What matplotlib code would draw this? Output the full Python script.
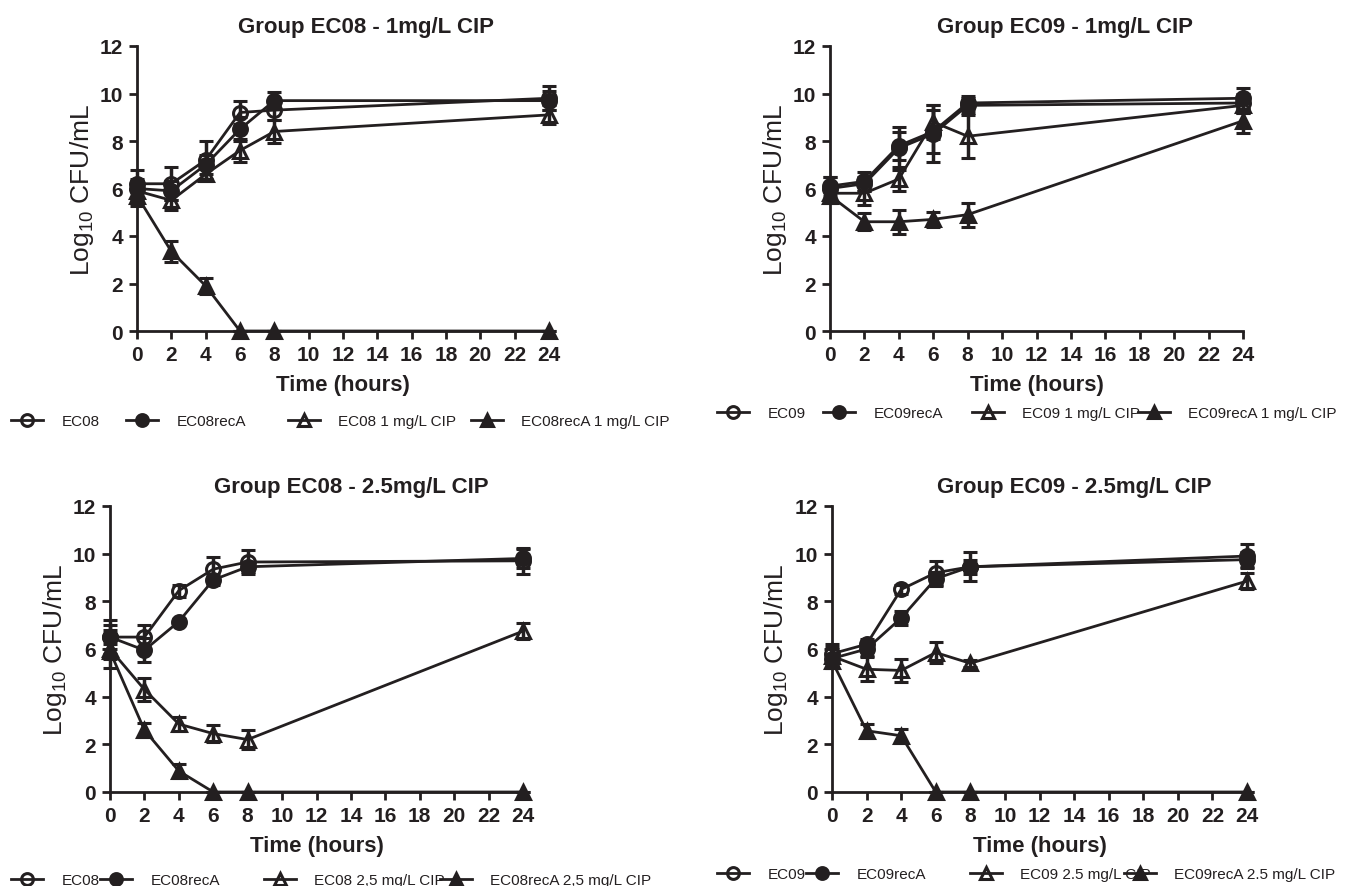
import matplotlib.pyplot as plt

plt.rcParams['font.family'] = ['Liberation Sans', 'DejaVu Sans']
plt.rcParams['mathtext.default'] = 'regular'

hours = [0, 2, 4, 6, 8, 24]

# Group EC08 - 1 mg/L CIP
ec08_a = [6.2, 6.2, 7.2, 9.2, 9.3, 9.8]
ec08_a_sd = [0.6, 0.7, 0.8, 0.5, 0.4, 0.5]
ec08reca_a = [6.0, 5.9, 7.0, 8.5, 9.7, 9.7]
ec08reca_a_sd = [0.4, 0.4, 0.4, 0.5, 0.35, 0.4]
ec08_cip1 = [5.9, 5.5, 6.6, 7.6, 8.4, 9.1]
ec08_cip1_sd = [0.4, 0.4, 0.3, 0.5, 0.5, 0.4]
ec08reca_cip1 = [5.7, 3.35, 1.9, 0, 0, 0]
ec08reca_cip1_sd = [0.45, 0.45, 0.35, 0, 0, 0]

# Group EC09 - 1 mg/L CIP
ec09_a = [6.0, 6.2, 7.7, 8.3, 9.5, 9.6]
ec09_a_sd = [0.5, 0.3, 0.9, 1.2, 0.3, 0.4]
ec09reca_a = [6.1, 6.3, 7.8, 8.4, 9.6, 9.8]
ec09reca_a_sd = [0.4, 0.4, 0.6, 0.9, 0.3, 0.45]
ec09_cip1 = [5.8, 5.8, 6.4, 8.8, 8.2, 9.5]
ec09_cip1_sd = [0.3, 0.5, 0.5, 0.7, 0.9, 0.3]
ec09reca_cip1 = [5.7, 4.6, 4.6, 4.7, 4.9, 8.85]
ec09reca_cip1_sd = [0.3, 0.35, 0.5, 0.3, 0.5, 0.5]

# Group EC08 - 2.5 mg/L CIP
ec08_b = [6.5, 6.5, 8.45, 9.35, 9.65, 9.7]
ec08_b_sd = [0.7, 0.5, 0.25, 0.5, 0.5, 0.55]
ec08reca_b = [6.5, 5.95, 7.15, 8.9, 9.45, 9.8]
ec08reca_b_sd = [0.5, 0.5, 0.1, 0.2, 0.2, 0.4]
ec08_cip25 = [6.0, 4.3, 2.85, 2.45, 2.2, 6.75]
ec08_cip25_sd = [0.8, 0.5, 0.3, 0.35, 0.4, 0.35]
ec08reca_cip25 = [5.9, 2.6, 0.88, 0, 0, 0]
ec08reca_cip25_sd = [0.3, 0.3, 0.3, 0, 0, 0]

# Group EC09 - 2.5 mg/L CIP
ec09_b = [5.8, 6.2, 8.5, 9.2, 9.45, 9.9]
ec09_b_sd = [0.4, 0.2, 0.2, 0.5, 0.6, 0.5]
ec09reca_b = [5.6, 6.0, 7.3, 8.95, 9.45, 9.75]
ec09reca_b_sd = [0.4, 0.3, 0.3, 0.3, 0.3, 0.3]
ec09_cip25 = [5.7, 5.15, 5.1, 5.85, 5.4, 8.85]
ec09_cip25_sd = [0.4, 0.5, 0.5, 0.45, 0.15, 0.35]
ec09reca_cip25 = [5.5, 2.57, 2.36, 0, 0, 0]
ec09reca_cip25_sd = [0.3, 0.3, 0.3, 0, 0, 0]

panels = [
    {
        'title': 'Group EC08 - 1mg/L CIP',
        'rect': [137 / 1348, 1 - 332 / 887, 412 / 1348, 285 / 887],
        'title_x': 0.556,
        'series': [(ec08_a, ec08_a_sd), (ec08reca_a, ec08reca_a_sd),
                   (ec08_cip1, ec08_cip1_sd), (ec08reca_cip1, ec08reca_cip1_sd)],
        'labels': ['EC08', 'EC08recA', 'EC08 1 mg/L CIP', 'EC08recA 1 mg/L CIP'],
        'leg_x': [11, 126, 288, 471],
        'leg_y': 422,
    },
    {
        'title': 'Group EC09 - 1mg/L CIP',
        'rect': [830 / 1348, 1 - 332 / 887, 413 / 1348, 285 / 887],
        'title_x': 0.57,
        'series': [(ec09_a, ec09_a_sd), (ec09reca_a, ec09reca_a_sd),
                   (ec09_cip1, ec09_cip1_sd), (ec09reca_cip1, ec09reca_cip1_sd)],
        'labels': ['EC09', 'EC09recA', 'EC09 1 mg/L CIP', 'EC09recA 1 mg/L CIP'],
        'leg_x': [717, 823, 972, 1138],
        'leg_y': 414,
    },
    {
        'title': 'Group EC08 - 2.5mg/L CIP',
        'rect': [110 / 1348, 1 - 793 / 887, 413 / 1348, 286 / 887],
        'title_x': 0.585,
        'series': [(ec08_b, ec08_b_sd), (ec08reca_b, ec08reca_b_sd),
                   (ec08_cip25, ec08_cip25_sd), (ec08reca_cip25, ec08reca_cip25_sd)],
        'labels': ['EC08', 'EC08recA', 'EC08 2,5 mg/L CIP', 'EC08recA 2,5 mg/L CIP'],
        'leg_x': [11, 100, 264, 440],
        'leg_y': 881,
    },
    {
        'title': 'Group EC09 - 2.5mg/L CIP',
        'rect': [832 / 1348, 1 - 793 / 887, 415 / 1348, 286 / 887],
        'title_x': 0.585,
        'series': [(ec09_b, ec09_b_sd), (ec09reca_b, ec09reca_b_sd),
                   (ec09_cip25, ec09_cip25_sd), (ec09reca_cip25, ec09reca_cip25_sd)],
        'labels': ['EC09', 'EC09recA', 'EC09 2.5 mg/L CIP', 'EC09recA 2.5 mg/L CIP'],
        'leg_x': [717, 806, 970, 1124],
        'leg_y': 875,
    },
]

# open circle, filled circle, open triangle, filled triangle
styles = [('o', 'none'), ('o', '#231f20'), ('^', 'none'), ('^', '#231f20')]
ink = '#231f20'

fig = plt.figure(figsize=(13.48, 8.87), dpi=100)

for p in panels:
    ax = fig.add_axes(p['rect'])
    handles = []
    for (vals, sd), (mk, face) in zip(p['series'], styles):
        cont = ax.errorbar(hours, vals, yerr=sd, color=ink, lw=2.0, marker=mk,
                           markersize=10, markerfacecolor=face, markeredgecolor=ink,
                           markeredgewidth=2.2, elinewidth=2.5, capsize=5,
                           capthick=2.5, clip_on=False, zorder=3)
        for artist in cont.lines[1] + cont.lines[2]:
            artist.set_clip_on(False)
        cont.lines[0].set_clip_on(False)
        handles.append(cont.lines[0])

    ax.set_xlim(0, 24)
    ax.set_ylim(0, 12)
    ax.set_xticks(range(0, 25, 2))
    ax.set_yticks(range(0, 13, 2))
    for side in ['top', 'right']:
        ax.spines[side].set_visible(False)
    for side in ['left', 'bottom']:
        ax.spines[side].set_linewidth(2)
        ax.spines[side].set_color(ink)
    ax.tick_params(direction='out', length=6, width=2, color=ink, pad=4,
                   labelsize=15, labelcolor=ink)
    for lab in ax.get_xticklabels() + ax.get_yticklabels():
        lab.set_fontweight('bold')

    ax.set_title(p['title'], x=p['title_x'], pad=10, fontsize=16,
                 fontweight='bold', color=ink)
    ax.set_xlabel('Time (hours)', fontsize=16, fontweight='bold', color=ink)
    ax.xaxis.set_label_coords(0.5, -0.15)
    ax.set_ylabel('Log$_{10}$ CFU/mL', fontsize=19, color=ink)
    ax.yaxis.set_label_coords(-0.1, 0.5)

    for h, lab, lx in zip(handles, p['labels'], p['leg_x']):
        fig.legend([h], [lab], loc='center left',
                   bbox_to_anchor=(lx / 1348, 1 - p['leg_y'] / 887),
                   frameon=False, fontsize=11, handlelength=2.1,
                   markerscale=0.85, handletextpad=1.2, borderpad=0,
                   borderaxespad=0, labelcolor=ink)

fig.savefig('out.png', dpi=100)
